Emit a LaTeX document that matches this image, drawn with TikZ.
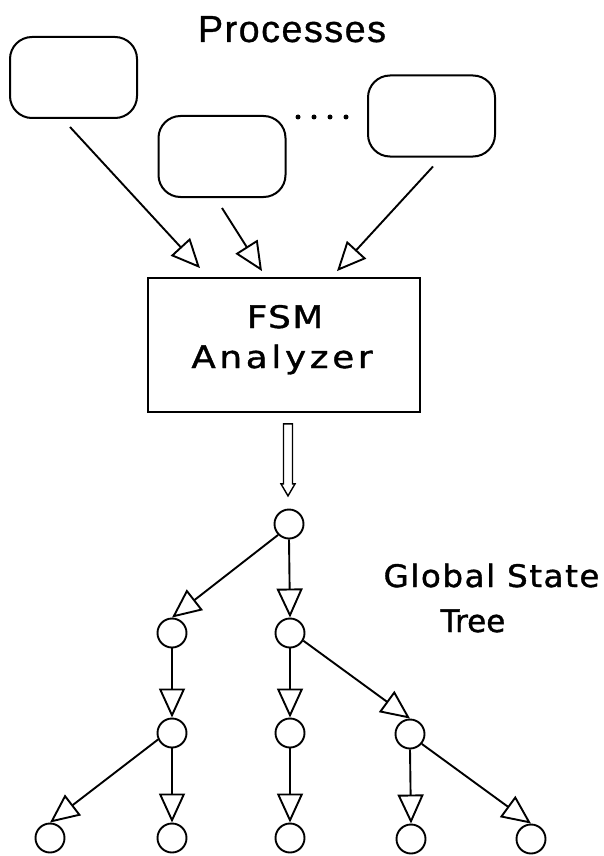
\documentclass[tikz,border=0pt]{standalone}
\usepackage{fontspec}
\setmainfont{DejaVu Sans}
\newfontfamily\procfont[LetterSpace=4,FakeBold=0.8]{Liberation Sans}
\newfontfamily\plotfont[FakeBold=1.2]{DejaVu Sans}
\usetikzlibrary{arrows.meta}
\begin{document}
\begin{tikzpicture}[x=1pt,y=-1pt,
  pbox/.style={draw, line width=2pt, rounded corners=22pt, minimum width=127pt, minimum height=81pt, inner sep=0pt},
  fbox/.style={draw, line width=1.8pt, minimum width=272pt, minimum height=134pt, inner sep=0pt},
  st/.style={circle, draw, line width=1.9pt, minimum size=29pt, inner sep=0pt},
  arr/.style={line width=1.9pt, -{Triangle[open, length=29pt, width=26pt, line width=1.9pt]}},
  dbl/.style={line width=1.4pt, line join=miter},
  lbl/.style={inner sep=0pt, anchor=base, font=\plotfont\fontsize{31}{36}\selectfont},
  dot/.style={circle, fill, minimum size=5pt, inner sep=0pt},
]
\useasboundingbox (0,0) rectangle (603,856);
\fill[white] (0,0) rectangle (603,856);

% title
\node[inner sep=0pt, anchor=base, font=\procfont\fontsize{37.7}{40}\selectfont] (ttl) at (292,42) {Processes};

% processes
\node[pbox] (p1) at (73.5,77.5) {};
\node[pbox] (p2) at (222,156.5) {};
\node[pbox] (p3) at (431.5,116) {};
\node[dot] (d1) at (298,117) {};
\node[dot] (d2) at (314,117) {};
\node[dot] (d3) at (330,117) {};
\node[dot] (d4) at (346,117) {};

% analyzer
\node[fbox] (fsm) at (284,345) {};
\node[lbl] (fsmA) at (285,328) {\addfontfeatures{FakeStretch=1.15,LetterSpace=5}FSM};
\node[lbl] (fsmB) at (282,368) {\addfontfeatures{FakeStretch=1.15,LetterSpace=12}Analyzer};

\draw[arr] ([xshift=-3.5pt,yshift=-8pt]p1.south) -- ([xshift=-84pt,yshift=9pt]fsm.north);
\draw[arr] ([yshift=-10pt]p2.south) -- ([xshift=-22pt,yshift=6pt]fsm.north);
\draw[arr] ([xshift=1.5pt,yshift=-9pt]p3.south) -- ([xshift=53pt,yshift=6pt]fsm.north);

% tree
\node[st] (r0) at (289,524) {};
\node[st] (a1) at (172,633) {};
\node[st] (b1) at (290,633) {};
\node[st] (a2) at (172,733) {};
\node[st] (b2) at (290,733) {};
\node[st] (c2) at (410,734) {};
\node[st] (l1) at (50,838) {};
\node[st] (l2) at (172,838) {};
\node[st] (l3) at (290,838) {};
\node[st] (l4) at (411,839) {};
\node[st] (l5) at (531,839) {};

% double arrow from analyzer to root
\draw[dbl] ([xshift=-0.5pt,yshift=-11pt]fsm.south) -- ++(0,60) -- ++(-2.5,0) -- ++(7,12) -- ++(7,-12) -- ++(-2.5,0) -- ++(0,-60) -- cycle;

\draw[arr] (r0.225) -- (a1.north);
\draw[arr] (r0.south) -- (b1.north);
\draw[arr] (a1.south) -- (a2.north);
\draw[arr] (b1.south) -- (b2.north);
\draw[arr] (b1.-30) -- (c2.north);
\draw[arr] (a2.205) -- (l1.north);
\draw[arr] (a2.south) -- (l2.north);
\draw[arr] (b2.south) -- (l3.north);
\draw[arr] (c2.south) -- (l4.north);
\draw[arr] (c2.-40) -- (l5.north);

\node[lbl] (gs1) at (491.5,587) {\addfontfeatures{FakeStretch=1.05,LetterSpace=5}Global State};
\node[lbl] (gs2) at (473,632) {Tree};
\end{tikzpicture}
\end{document}
